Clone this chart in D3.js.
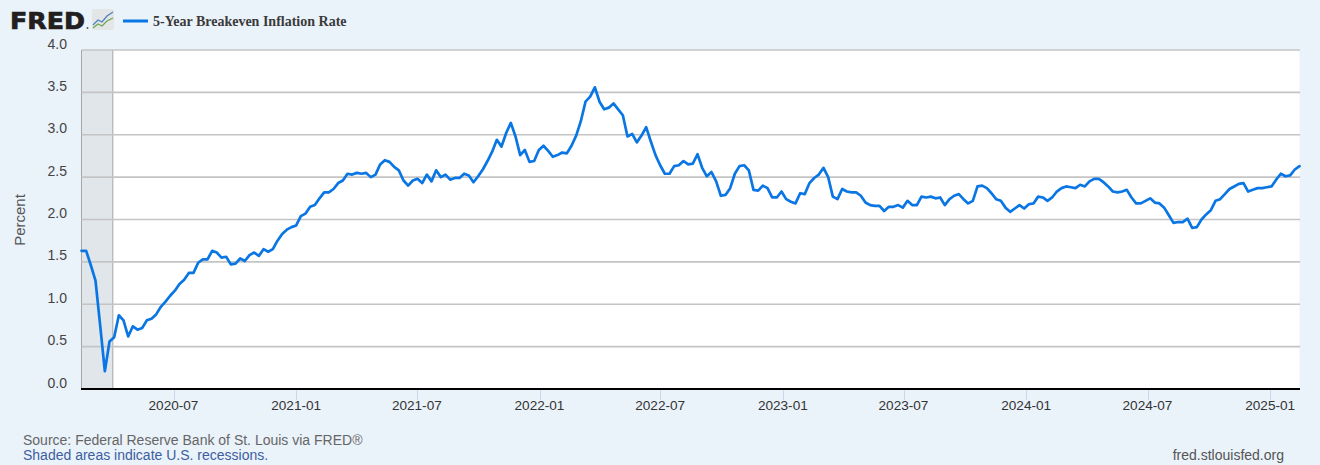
<!DOCTYPE html>
<html>
<head>
<meta charset="utf-8">
<script src="https://cdn.jsdelivr.net/npm/d3@7/dist/d3.min.js"></script>
<style>
html,body{margin:0;padding:0;background:#eaf2fa;}
svg{display:block;font-family:"Liberation Sans",Arial,sans-serif;}
</style>
</head>
<body>
<svg id="chart" width="1320" height="465"></svg>
<script>
// Weekly (Friday) values, 5-Year Breakeven Inflation Rate, percent
const startDate = new Date(2020, 1, 14);
const endDate = new Date(2025, 1, 14);
const rate2020 = [1.63,1.63,1.46,1.28,0.75,0.21,0.56,0.61,0.87,0.81,0.62,0.74,0.70,0.72,0.81,0.83,0.88,0.97,1.03,1.10,1.16,1.24,1.29,1.37,1.37,1.49,1.53,1.53,1.63,1.61,1.55,1.56,1.47,1.48,1.54,1.51,1.58,1.61,1.57,1.65,1.62,1.65,1.75,1.83,1.88,1.91];
const rate2021 = [1.93,2.04,2.07,2.15,2.17,2.25,2.32,2.32,2.36,2.43,2.46,2.54,2.53,2.55,2.54,2.55,2.50,2.53,2.65,2.70,2.68,2.62,2.58,2.46,2.40,2.46,2.48,2.43,2.53,2.45,2.58,2.50,2.53,2.47,2.49,2.49,2.54,2.52,2.44,2.51,2.59,2.69,2.80,2.94,2.86,3.02,3.14,2.98,2.76,2.82,2.68,2.69,2.82];
const rate2022 = [2.87,2.81,2.74,2.76,2.79,2.78,2.87,2.99,3.16,3.39,3.45,3.56,3.39,3.30,3.32,3.37,3.30,3.23,2.98,3.01,2.91,2.99,3.09,2.92,2.76,2.64,2.54,2.54,2.63,2.64,2.69,2.65,2.66,2.77,2.61,2.51,2.56,2.45,2.28,2.29,2.37,2.54,2.63,2.64,2.58,2.35,2.34,2.40,2.37,2.26,2.26,2.33];
const rate2023 = [2.24,2.21,2.19,2.31,2.30,2.43,2.49,2.53,2.61,2.50,2.27,2.24,2.36,2.33,2.32,2.32,2.28,2.20,2.17,2.16,2.16,2.10,2.15,2.15,2.17,2.14,2.22,2.17,2.17,2.27,2.26,2.27,2.25,2.26,2.17,2.24,2.28,2.30,2.24,2.19,2.22,2.39,2.40,2.37,2.31,2.24,2.22,2.14,2.09,2.13,2.17,2.13];
const rate2024 = [2.18,2.19,2.27,2.26,2.22,2.26,2.33,2.37,2.39,2.38,2.37,2.41,2.39,2.45,2.48,2.48,2.44,2.39,2.33,2.32,2.33,2.35,2.26,2.19,2.19,2.22,2.25,2.20,2.19,2.14,2.05,1.96,1.97,1.97,2.01,1.90,1.91,2.00,2.06,2.11,2.22,2.24,2.30,2.36,2.39,2.42,2.43,2.33,2.35,2.37,2.37,2.38];
const rate2025 = [2.39,2.47,2.54,2.51,2.52,2.59,2.63];
const yTicks = [0, 0.5, 1.0, 1.5, 2.0, 2.5, 3.0, 3.5, 4.0];
const xTickLabels = ["2020-07","2021-01","2021-07","2022-01","2022-07","2023-01","2023-07","2024-01","2024-07","2025-01"];
const recession = [new Date(2020, 1, 1), new Date(2020, 3, 1)];
const seriesName = "5-Year Breakeven Inflation Rate";

const values = [].concat(rate2020, rate2021, rate2022, rate2023, rate2024, rate2025);
const data = values.map((v, i) => ({date: d3.timeDay.offset(startDate, 7 * i), value: v}));
const parseTick = d3.timeParse("%Y-%m");

const svg = d3.select("#chart");
const W = 1320, H = 465;
const plot = {left: 81.5, right: 1299.5, top: 50, bottom: 389};

const x = d3.scaleTime().domain([startDate, endDate]).range([plot.left, plot.right]);
const y = d3.scaleLinear().domain([0, 4]).range([plot.bottom, plot.top]);

svg.append("rect").attr("width", W).attr("height", H).attr("fill", "#eaf2fa");
svg.append("rect").attr("x", plot.left).attr("y", plot.top)
  .attr("width", plot.right - plot.left).attr("height", plot.bottom - plot.top).attr("fill", "#ffffff");

// recession band
const r0 = x(d3.max([recession[0], startDate])), r1 = x(recession[1]);
svg.append("rect").attr("x", r0).attr("y", plot.top).attr("width", r1 - r0)
  .attr("height", plot.bottom - plot.top).attr("fill", "#e1e6eb");
[r0, r1].forEach(px => svg.append("line").attr("x1", px).attr("x2", px)
  .attr("y1", plot.top).attr("y2", plot.bottom).attr("stroke", "#a6a6a6").attr("stroke-width", 1));

// gridlines
svg.append("g").selectAll("line").data(yTicks.filter(d => d > 0)).join("line")
  .attr("x1", plot.left).attr("x2", plot.right + 0.5)
  .attr("y1", d => y(d)).attr("y2", d => y(d))
  .attr("stroke", "#c4c4c4").attr("stroke-width", 1.6);

// y labels
svg.append("g").selectAll("text").data(yTicks).join("text")
  .attr("x", 67).attr("y", d => y(d) - 1.5)
  .attr("text-anchor", "end").attr("font-size", 14).attr("fill", "#444")
  .text(d => d3.format(".1f")(d));

// y title
svg.append("text").attr("transform", "translate(25,220) rotate(-90)")
  .attr("text-anchor", "middle").attr("font-size", 15).attr("fill", "#555").text("Percent");

// x axis ticks + labels
const xg = svg.append("g");
xg.selectAll("line").data(xTickLabels).join("line")
  .attr("x1", d => Math.round(x(parseTick(d))) + 0.5).attr("x2", d => Math.round(x(parseTick(d))) + 0.5)
  .attr("y1", plot.bottom).attr("y2", plot.bottom + 11)
  .attr("stroke", "#ccd6eb").attr("stroke-width", 1);
xg.selectAll("text").data(xTickLabels).join("text")
  .attr("x", d => x(parseTick(d))).attr("y", 410)
  .attr("text-anchor", "middle").attr("font-size", 13.6).attr("fill", "#333").text(d => d);

// series line
const line = d3.line().x(d => x(d.date)).y(d => y(d.value));
svg.append("path").datum(data).attr("d", line)
  .attr("fill", "none").attr("stroke", "#0a76e4").attr("stroke-width", 2.7)
  .attr("stroke-linejoin", "round").attr("stroke-linecap", "round");

// zero axis line
svg.append("line").attr("x1", plot.left - 0.5).attr("x2", plot.right + 0.5)
  .attr("y1", plot.bottom).attr("y2", plot.bottom).attr("stroke", "#000").attr("stroke-width", 2.2);

// FRED logo
svg.append("text").attr("x", 10).attr("y", 28.5).attr("font-family", "'DejaVu Sans',sans-serif")
  .attr("font-weight", "bold").attr("font-size", 23.5)
  .attr("textLength", 75).attr("lengthAdjust", "spacingAndGlyphs")
  .attr("fill", "#231f20").attr("stroke", "#231f20").attr("stroke-width", 0.7).text("FRED");
svg.append("circle").attr("cx", 87.5).attr("cy", 28).attr("r", 1).attr("fill", "#555");
const icon = svg.append("g").attr("transform", "translate(92,9)");
icon.append("rect").attr("width", 22).attr("height", 21).attr("rx", 2).attr("fill", "#e3e5e6");
icon.append("polyline").attr("points", "1,16 6,11 10,13 15,7 21,3").attr("fill", "none")
  .attr("stroke", "#4a7fc0").attr("stroke-width", 1.2);
icon.append("polyline").attr("points", "1,19 6,15 10,17 15,12 21,9").attr("fill", "none")
  .attr("stroke", "#6aa84f").attr("stroke-width", 1.2);

// legend
svg.append("line").attr("x1", 123).attr("x2", 148).attr("y1", 21).attr("y2", 21)
  .attr("stroke", "#0a76e4").attr("stroke-width", 3);
svg.append("text").attr("x", 153).attr("y", 26)
  .attr("font-family", "'Liberation Serif','Times New Roman',serif").attr("font-weight", "bold")
  .attr("font-size", 14).attr("fill", "#3a3a3a").text(seriesName);

// footer
svg.append("text").attr("x", 23).attr("y", 445).attr("font-size", 14).attr("fill", "#666")
  .text("Source: Federal Reserve Bank of St. Louis via FRED®");
svg.append("text").attr("x", 23).attr("y", 460).attr("font-size", 14).attr("fill", "#3d5e9e")
  .text("Shaded areas indicate U.S. recessions.");
svg.append("text").attr("x", 1284).attr("y", 460).attr("text-anchor", "end")
  .attr("font-size", 14).attr("fill", "#555").text("fred.stlouisfed.org");
</script>
</body>
</html>
